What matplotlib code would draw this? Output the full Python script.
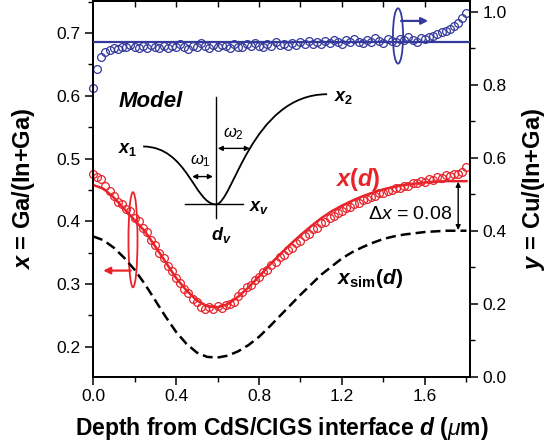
import matplotlib
matplotlib.use("Agg")
import matplotlib.pyplot as plt
from matplotlib.path import Path
from matplotlib.patches import PathPatch, Ellipse
from matplotlib.ticker import MultipleLocator, FormatStrFormatter

plt.rcParams['font.family'] = ['Liberation Sans', 'DejaVu Sans']
plt.rcParams['mathtext.fontset'] = 'custom'
plt.rcParams['mathtext.rm'] = 'Liberation Sans'
plt.rcParams['mathtext.it'] = 'Liberation Sans:italic'
plt.rcParams['mathtext.bf'] = 'Liberation Sans:bold'
plt.rcParams['mathtext.bfit'] = 'Liberation Sans:bold:italic'

# ---- data -------------------------------------------------------------
depth = [0.00, 0.02, 0.04, 0.06, 0.08, 0.10, 0.12, 0.14, 0.16, 0.18,
         0.20, 0.22, 0.24, 0.26, 0.28, 0.30, 0.32, 0.34, 0.36, 0.38,
         0.40, 0.42, 0.44, 0.46, 0.48, 0.50, 0.52, 0.54, 0.56, 0.58,
         0.60, 0.62, 0.64, 0.66, 0.68, 0.70, 0.72, 0.74, 0.76, 0.78,
         0.80, 0.82, 0.84, 0.86, 0.88, 0.90, 0.92, 0.94, 0.96, 0.98,
         1.00, 1.02, 1.04, 1.06, 1.08, 1.10, 1.12, 1.14, 1.16, 1.18,
         1.20, 1.22, 1.24, 1.26, 1.28, 1.30, 1.32, 1.34, 1.36, 1.38,
         1.40, 1.42, 1.44, 1.46, 1.48, 1.50, 1.52, 1.54, 1.56, 1.58,
         1.60, 1.62, 1.64, 1.66, 1.68, 1.70, 1.72, 1.74, 1.76, 1.78,
         1.80]

ga_meas = [0.476, 0.471, 0.468, 0.457, 0.449, 0.441, 0.430, 0.427, 0.419, 0.416,
           0.405, 0.401, 0.390, 0.383, 0.370, 0.363, 0.350, 0.342, 0.329, 0.321,
           0.310, 0.302, 0.292, 0.286, 0.277, 0.272, 0.264, 0.260, 0.263, 0.261,
           0.265, 0.262, 0.266, 0.268, 0.272, 0.281, 0.287, 0.296, 0.299, 0.307,
           0.311, 0.319, 0.323, 0.331, 0.335, 0.343, 0.347, 0.354, 0.358, 0.365,
           0.369, 0.376, 0.380, 0.387, 0.390, 0.397, 0.399, 0.405, 0.408, 0.414,
           0.416, 0.421, 0.423, 0.428, 0.429, 0.434, 0.435, 0.439, 0.440, 0.445,
           0.445, 0.449, 0.450, 0.453, 0.453, 0.457, 0.457, 0.461, 0.461, 0.465,
           0.463, 0.467, 0.466, 0.470, 0.469, 0.473, 0.472, 0.476, 0.475, 0.479,
           0.487]

cu_meas = [0.792, 0.845, 0.877, 0.889, 0.897, 0.902, 0.899, 0.905, 0.903, 0.909,
           0.904, 0.901, 0.907, 0.902, 0.910, 0.905, 0.900, 0.906, 0.902, 0.908,
           0.903, 0.911, 0.905, 0.898, 0.907, 0.903, 0.914, 0.906, 0.901, 0.909,
           0.904, 0.910, 0.906, 0.902, 0.912, 0.905, 0.903, 0.911, 0.906, 0.916,
           0.908, 0.904, 0.912, 0.907, 0.918, 0.909, 0.913, 0.906, 0.915, 0.910,
           0.917, 0.911, 0.920, 0.913, 0.918, 0.912, 0.921, 0.915, 0.924, 0.917,
           0.913, 0.922, 0.918, 0.926, 0.919, 0.915, 0.923, 0.917, 0.928, 0.920,
           0.916, 0.925, 0.921, 0.918, 0.927, 0.922, 0.930, 0.924, 0.919, 0.928,
           0.926, 0.932, 0.934, 0.939, 0.944, 0.948, 0.954, 0.962, 0.971, 0.983,
           0.998]
cu_avg = 0.918

depth_fit = [0.00, 0.05, 0.10, 0.15, 0.20, 0.25, 0.30, 0.35, 0.40, 0.45,
             0.50, 0.55, 0.60, 0.65, 0.70, 0.75, 0.80, 0.85, 0.90, 0.95,
             1.00, 1.05, 1.10, 1.15, 1.20, 1.25, 1.30, 1.35, 1.40, 1.45,
             1.50, 1.55, 1.60, 1.65, 1.70, 1.75, 1.80]
ga_fit = [0.458, 0.452, 0.438, 0.420, 0.402, 0.384, 0.360, 0.335, 0.310, 0.290,
          0.274, 0.265, 0.263, 0.268, 0.280, 0.295, 0.312, 0.330, 0.347, 0.363,
          0.378, 0.392, 0.405, 0.416, 0.425, 0.433, 0.440, 0.446, 0.451, 0.455,
          0.458, 0.460, 0.462, 0.463, 0.464, 0.464, 0.464]
ga_sim = [0.376, 0.370, 0.358, 0.342, 0.323, 0.300, 0.274, 0.248, 0.224, 0.205,
          0.191, 0.184, 0.183, 0.186, 0.193, 0.203, 0.216, 0.232, 0.249, 0.266,
          0.283, 0.299, 0.315, 0.328, 0.341, 0.351, 0.359, 0.366, 0.372, 0.376,
          0.379, 0.381, 0.383, 0.384, 0.385, 0.385, 0.385]

RED = '#E8242B'
BLUE = '#343A9C'

# ---- figure -----------------------------------------------------------
fig = plt.figure(figsize=(5.54, 4.47), dpi=100)
ax = fig.add_axes([0.1679, 0.1566, 0.6805, 0.8412])
ax2 = ax.twinx()

ax.plot(depth, ga_meas, 'o', mfc='none', mec=RED, ms=5.6, mew=0.9,
        clip_on=False, zorder=2)
ax.plot(depth_fit, ga_fit, '-', color=RED, lw=1.8, zorder=3)
ax.plot(depth_fit, ga_sim, '--', color='black', lw=1.8, dashes=(4, 2), zorder=3)

ax2.plot(depth, cu_meas, 'o', mfc='none', mec=BLUE, ms=5.6, mew=0.9,
         clip_on=False, zorder=2)
ax2.axhline(cu_avg, color=BLUE, lw=1.6, zorder=3)

ax.set_xlim(0, 1.817)
ax.set_ylim(0.152, 0.751)
ax2.set_ylim(0, 1.03)

for a in (ax, ax2):
    for s in a.spines.values():
        s.set_linewidth(1.3)

ax.xaxis.set_major_locator(MultipleLocator(0.4))
ax.xaxis.set_minor_locator(MultipleLocator(0.2))
ax.yaxis.set_major_locator(MultipleLocator(0.1))
ax.yaxis.set_minor_locator(MultipleLocator(0.05))
ax2.yaxis.set_major_locator(MultipleLocator(0.2))
ax2.yaxis.set_minor_locator(MultipleLocator(0.1))
ax.xaxis.set_major_formatter(FormatStrFormatter('%.1f'))
ax.yaxis.set_major_formatter(FormatStrFormatter('%.1f'))
ax2.yaxis.set_major_formatter(FormatStrFormatter('%.1f'))

ax.tick_params(which='major', direction='out', length=6, width=1.1, labelsize=12.5, pad=3)
ax.tick_params(which='minor', direction='out', length=3.5, width=1.0)
ax2.tick_params(which='major', direction='out', length=6, width=1.1, labelsize=12.5, pad=3)
ax2.tick_params(which='minor', direction='out', length=3.5, width=1.0)

top = ax.secondary_xaxis('top')
top.set_xticks([0.2, 0.4, 0.6, 0.8, 1.0, 1.2, 1.4, 1.6])
top.tick_params(direction='in', length=4.5, width=1.0, labeltop=False)
top.spines['top'].set_linewidth(1.3)

ax.set_xlabel(r'Depth from CdS/CIGS interface $\mathbfit{d}$ ($\mu$m)',
              fontsize=16.5, fontweight='bold')
ax.xaxis.set_label_coords(0.5, -0.1)
ax.set_ylabel(r'$\mathbfit{x}$ = Ga/(In+Ga)', fontsize=17, fontweight='bold')
ax.yaxis.set_label_coords(-0.149, 0.5)
ax2.set_ylabel(r'$\mathbfit{y}$ = Cu/(In+Ga)', fontsize=17, fontweight='bold')
ax2.yaxis.set_label_coords(1.133, 0.5)

# ---- annotations ------------------------------------------------------
tr = ax.transAxes
ax.text(0.068, 0.733, 'Model', transform=tr, fontsize=16, fontweight='bold',
        style='italic', va='center', ha='left')

# schematic profile of the model
verts = [(0.133, 0.613), (0.25, 0.613), (0.27, 0.459), (0.326, 0.459),
         (0.37, 0.459), (0.42, 0.752), (0.621, 0.752)]
codes = [Path.MOVETO, Path.CURVE4, Path.CURVE4, Path.CURVE4,
         Path.CURVE4, Path.CURVE4, Path.CURVE4]
ax.add_patch(PathPatch(Path(verts, codes), transform=tr, fill=False,
                       lw=1.3, color='black'))
ax.plot([0.326, 0.326], [0.424, 0.744], transform=tr, color='black', lw=1.0)
ax.plot([0.244, 0.398], [0.459, 0.459], transform=tr, color='black', lw=1.0)
ax.annotate('', xy=(0.263, 0.533), xytext=(0.318, 0.533), xycoords=tr,
            arrowprops=dict(arrowstyle='<|-|>', color='black', lw=1.0,
                            mutation_scale=7, shrinkA=0, shrinkB=0))
ax.annotate('', xy=(0.331, 0.608), xytext=(0.416, 0.608), xycoords=tr,
            arrowprops=dict(arrowstyle='<|-|>', color='black', lw=1.0,
                            mutation_scale=7, shrinkA=0, shrinkB=0))
ax.text(0.093, 0.605, r'$\mathbfit{x}_\mathbf{1}$', transform=tr, fontsize=13,
        ha='center', va='center')
ax.text(0.665, 0.744, r'$\mathbfit{x}_\mathbf{2}$', transform=tr, fontsize=13,
        ha='center', va='center')
ax.text(0.440, 0.450, r'$\mathbfit{x}_\mathbfit{v}$', transform=tr, fontsize=13,
        ha='center', va='center')
ax.text(0.340, 0.378, r'$\mathbfit{d}_\mathbfit{v}$', transform=tr, fontsize=13,
        ha='center', va='center')
ax.text(0.286, 0.576, r'$\omega_1$', transform=tr, fontsize=12,
        ha='center', va='center')
ax.text(0.372, 0.648, r'$\omega_2$', transform=tr, fontsize=12,
        ha='center', va='center')

ax.text(0.703, 0.525, r'$\mathbfit{x}$($\mathbfit{d}$)', transform=tr,
        fontsize=17, fontweight='bold', color=RED, ha='center', va='center')
ax.text(0.735, 0.262, r'$\mathbfit{x}_{\mathbf{sim}}$($\mathbfit{d}$)',
        transform=tr, fontsize=15, fontweight='bold', ha='center', va='center')
ax.text(0.842, 0.432, r'$\Delta x$ = 0.08', transform=tr, fontsize=14,
        ha='center', va='center')
ax.annotate('', xy=(1.76, 0.463), xytext=(1.76, 0.386),
            arrowprops=dict(arrowstyle='<|-|>', color='black', lw=1.0,
                            mutation_scale=7, shrinkA=0, shrinkB=0))

# rotation arrows marking which axis belongs to which data
ax.add_patch(Ellipse((0.106, 0.365), 0.024, 0.253, transform=tr,
                     fill=False, color=RED, lw=1.3))
ax.annotate('', xy=(0.027, 0.283), xytext=(0.100, 0.283), xycoords=tr,
            arrowprops=dict(arrowstyle='-|>', color=RED, lw=1.6,
                            mutation_scale=10, shrinkA=0, shrinkB=0))
ax2.add_patch(Ellipse((0.809, 0.907), 0.027, 0.147, transform=ax2.transAxes,
                      fill=False, color=BLUE, lw=1.3))
ax2.annotate('', xy=(0.889, 0.947), xytext=(0.817, 0.947), xycoords=ax2.transAxes,
             arrowprops=dict(arrowstyle='-|>', color=BLUE, lw=1.6,
                             mutation_scale=10, shrinkA=0, shrinkB=0))

fig.savefig('out.png', dpi=100)
